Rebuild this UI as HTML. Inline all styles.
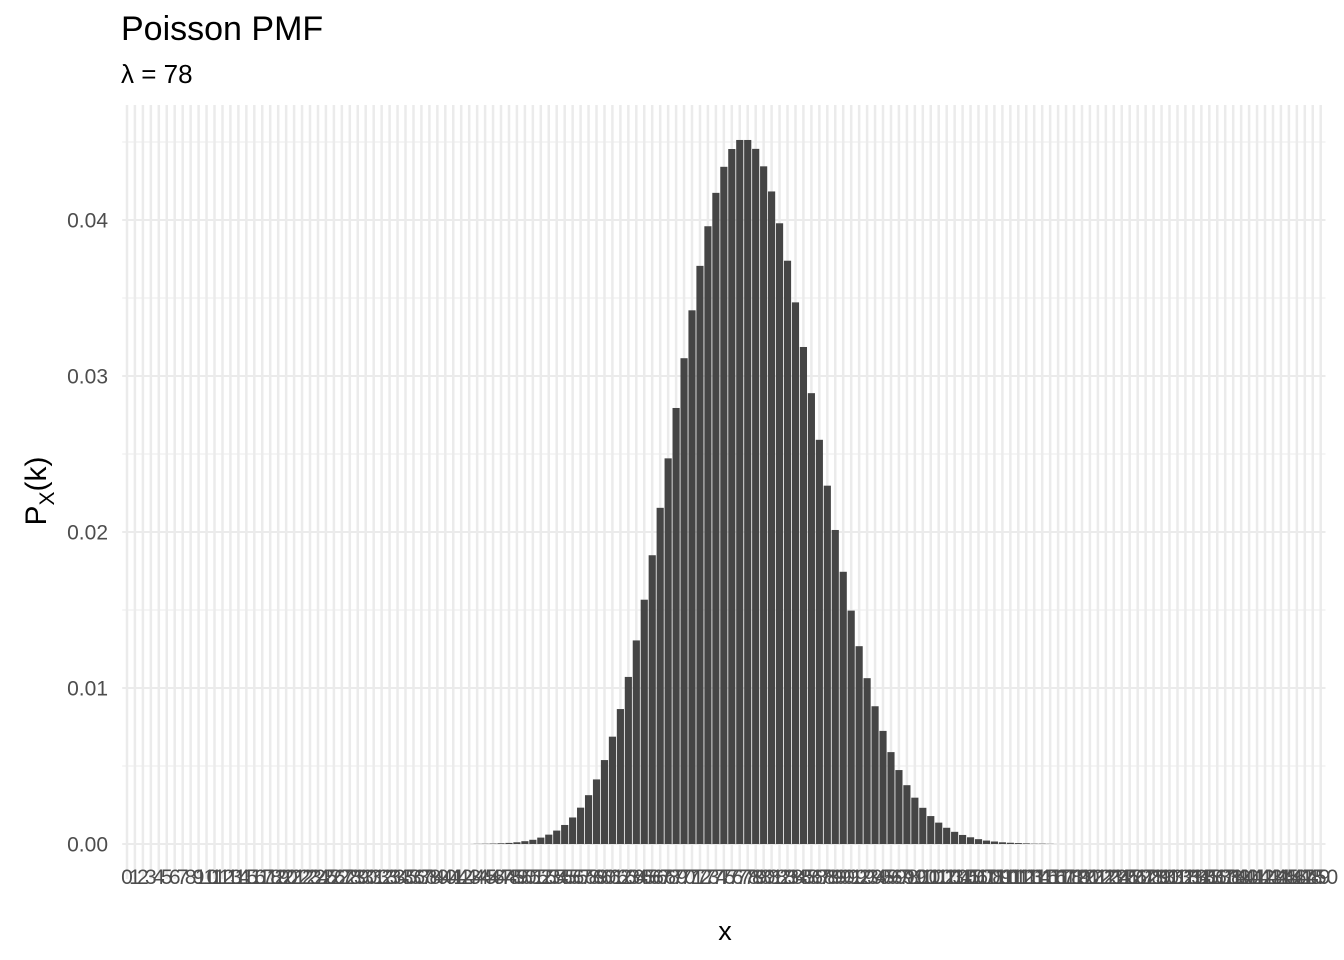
<!DOCTYPE html>
<html><head><meta charset="utf-8"><style>
body{margin:0;background:#fff;}
svg{display:block;font-family:"Liberation Sans",Arial,sans-serif;}
</style></head><body>
<svg id="chart" width="1344" height="960" viewBox="0 0 1344 960">
<text x="121" y="40" font-size="34" fill="#000">Poisson PMF</text>
<text x="121" y="83" font-size="26" fill="#000">λ = 78</text>
<text transform="translate(46,491) rotate(-90)" text-anchor="middle" font-size="30" fill="#000">P<tspan font-size="21" dy="8">X</tspan><tspan dy="-8">(k)</tspan></text>
<text x="725" y="940" text-anchor="middle" font-size="27" fill="#000">x</text>
<g id="grid"></g><g id="bars"></g><g id="yticks"></g><g id="xticks"></g>
</svg>
<script>
const categories = Array.from({length:151},(_,i)=>i);
const pmfLow = [0.000009,0.000016,0.000027,0.000045,0.00007,0.00011,0.00018,0.00027,0.00041,0.00060,0.00086,0.00122,0.00170,0.00233,0.00313,0.00414,0.00538,0.00688,0.00865,0.01071,0.01305,0.01566,0.01851,0.02155,0.02472,0.02795,0.03114,0.03421,0.03706,0.03960,0.04174,0.04341,0.04455,0.04513,0.04513]; // k=44..78
const pmfHigh = [0.04456,0.04344,0.04183,0.03979,0.03739,0.03472,0.03186,0.02890,0.02591,0.02297,0.02013,0.01745,0.01496,0.01268,0.01063,0.00883,0.00725,0.00589,0.00474,0.00377,0.00297,0.00232,0.00179,0.00137,0.00104,0.00078,0.00058,0.00043,0.00031,0.00022,0.00016,0.00011,0.00008,0.00006,0.00004,0.00002,0.00002,0.00001]; // k=79..116
const yTicks = [0,0.01,0.02,0.03,0.04];
const yTickLabels = ["0.00","0.01","0.02","0.03","0.04"];
const yMinor = [0.005,0.015,0.025,0.035,0.045];

const values = categories.map(k => k>=44 && k<=78 ? pmfLow[k-44] : (k>=79 && k<=116 ? pmfHigh[k-79] : 0));
const L=122.2, R=1325.5, T=105, B=879;
const unit=(R-L)/(categories.length-1+1.2);
const xS = k => L + (k+0.6)*unit;
const yS = v => 844 - v*15600;
const NS='http://www.w3.org/2000/svg';
function mk(tag, attrs, parent){const e=document.createElementNS(NS,tag);for(const a in attrs)e.setAttribute(a,attrs[a]);parent.appendChild(e);return e;}
const grid=document.getElementById('grid'), bars=document.getElementById('bars'), yt=document.getElementById('yticks'), xt=document.getElementById('xticks');
yMinor.forEach(v=>{const l=mk('line',{x1:L,x2:R,y1:yS(v),y2:yS(v),stroke:'#ebebeb','stroke-width':1},grid);

});
categories.forEach(k=>{const l=mk('line',{x1:xS(k),x2:xS(k),y1:T,y2:B,stroke:'#ebebeb','stroke-width':2.5},grid);

});
yTicks.forEach((v,i)=>{const l=mk('line',{x1:L,x2:R,y1:yS(v),y2:yS(v),stroke:'#ebebeb','stroke-width':2},grid);


const t=mk('text',{x:108,y:yS(v)+7.5,'text-anchor':'end','font-size':21,fill:'#4d4d4d'},yt);
t.textContent=yTickLabels[i];

});
categories.forEach((k,i)=>{const v=values[i];
if(v>0){const y=yS(v);const r=mk('rect',{x:xS(k)-unit*0.45,y:y,width:unit*0.9,height:Math.max(844-y,0),fill:'#454545'},bars);

}
const t=mk('text',{x:xS(k),y:884,'text-anchor':'middle','font-size':21,fill:'#4d4d4d'},xt);
t.textContent=String(k);

});
</script>
</body></html>
